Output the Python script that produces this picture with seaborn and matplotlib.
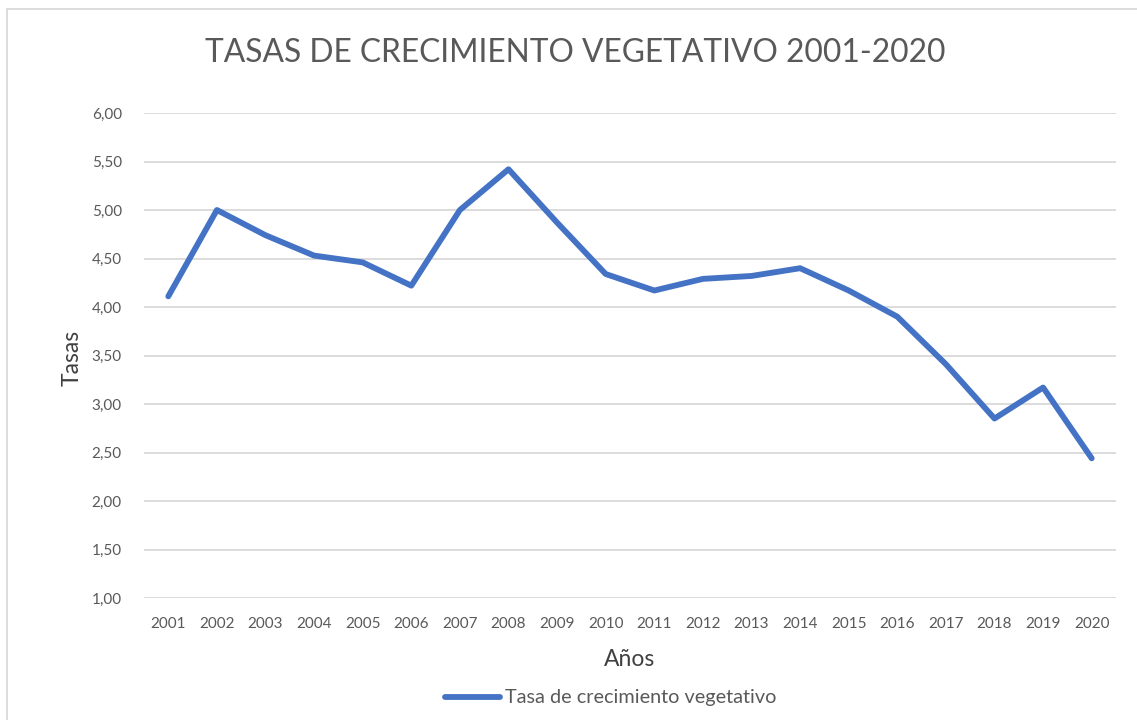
import matplotlib
matplotlib.use("Agg")
import matplotlib.pyplot as plt
import seaborn as sns
import pandas as pd
from matplotlib.lines import Line2D

years = ["2001", "2002", "2003", "2004", "2005", "2006", "2007", "2008", "2009", "2010",
         "2011", "2012", "2013", "2014", "2015", "2016", "2017", "2018", "2019", "2020"]
tasas = [4.11, 5.00, 4.74, 4.53, 4.46, 4.22, 5.00, 5.42, 4.87, 4.34,
         4.17, 4.29, 4.32, 4.40, 4.17, 3.90, 3.41, 2.85, 3.17, 2.44]
series_name = "Tasa de crecimiento vegetativo"
title = "TASAS DE CRECIMIENTO VEGETATIVO 2001-2020"
y_ticks = [1.0, 1.5, 2.0, 2.5, 3.0, 3.5, 4.0, 4.5, 5.0, 5.5, 6.0]

sns.set_theme(style="white")
plt.rcParams["font.family"] = ["Lato", "DejaVu Sans"]

df = pd.DataFrame({"Año": years, "Tasa": tasas, "idx": range(len(years))})

W, H = 1137, 720
fig = plt.figure(figsize=(W / 100, H / 100), dpi=100)
left, right, top, bottom = 144, 1116, 113, 598
ax = fig.add_axes([left / W, 1 - bottom / H, (right - left) / W, (bottom - top) / H])

gray = "#595959"
grid = "#d9d9d9"
blue = "#4472c4"

for t in y_ticks:
    ax.axhline(t, color=grid, lw=1.3, zorder=0)

sns.lineplot(data=df, x="idx", y="Tasa", ax=ax, color=blue, lw=4.2,
             solid_capstyle="round", solid_joinstyle="round", legend=False)

ax.set_xlim(-0.5, len(years) - 0.5)
ax.set_ylim(1.0, 6.0)
ax.set_xticks(range(len(years)))
ax.set_xticklabels(years)
ax.set_yticks(y_ticks)
ax.set_yticklabels([f"{t:.2f}".replace(".", ",") for t in y_ticks])
ax.tick_params(axis="both", length=0, labelsize=11, colors=gray)
ax.tick_params(axis="y", pad=16)
ax.tick_params(axis="x", pad=14)
for s in ax.spines.values():
    s.set_visible(False)
ax.set_xlabel("")
ax.set_ylabel("")

fig.text(630 / W, 1 - 660 / H, "Años", ha="center", va="center", fontsize=16.5, color="#404040")
fig.text(72 / W, 1 - 358 / H, "Tasas", ha="center", va="center", rotation=90, fontsize=16.5, color="#404040")
fig.text(575 / W, 1 - 53 / H, title, ha="center", va="center", fontsize=22.9, color=gray)

# legend
fig.add_artist(Line2D([445 / W, 500 / W], [1 - 697 / H, 1 - 697 / H], color=blue, lw=4.2,
                      solid_capstyle="round", transform=fig.transFigure))
fig.text(505 / W, 1 - 697 / H, series_name, ha="left", va="center", fontsize=14.3, color=gray)

# chart border
fig.add_artist(Line2D([7 / W, 1.0], [1 - 9 / H, 1 - 9 / H], color=grid, lw=1.3, transform=fig.transFigure))
fig.add_artist(Line2D([7 / W, 7 / W], [1 - 9 / H, 0], color=grid, lw=1.3, transform=fig.transFigure))

fig.savefig("out.png", dpi=100)
